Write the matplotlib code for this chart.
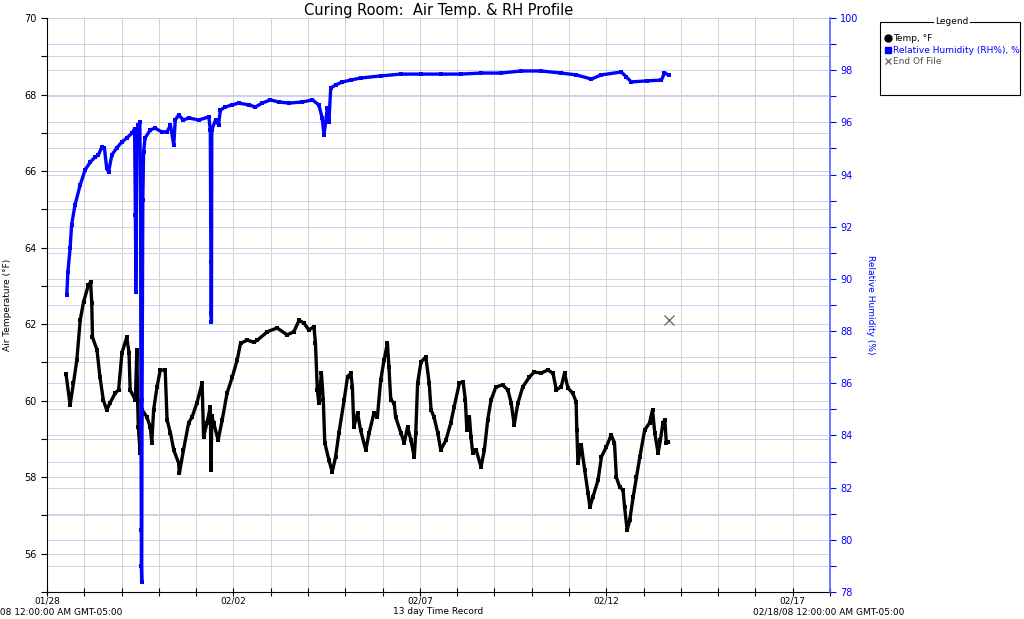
import matplotlib
matplotlib.use("Agg")
import matplotlib.pyplot as plt
from matplotlib.lines import Line2D
from matplotlib.patches import Rectangle
from matplotlib.ticker import MultipleLocator, FixedLocator

# ---- data (days since 01/28/08 00:00) ----
temp_days = [0.51, 0.62, 0.71, 0.80, 0.89, 0.98, 1.11, 1.17, 1.20, 1.22, 1.34, 1.42, 1.51, 1.60, 1.69,
             1.83, 1.92, 2.01, 2.14, 2.20, 2.23, 2.37, 2.41, 2.43, 2.45, 2.50, 2.55, 2.68, 2.77, 2.81,
             2.86, 2.95, 3.04, 3.17, 3.22, 3.31, 3.40, 3.53, 3.55, 3.66, 3.80, 3.89, 4.02, 4.16, 4.20,
             4.29, 4.38, 4.40, 4.42, 4.47, 4.59, 4.70, 4.83, 4.97, 5.10, 5.19, 5.37, 5.55, 5.64, 5.91,
             6.17, 6.44, 6.62, 6.76, 6.89, 7.02, 7.16, 7.20, 7.25, 7.29, 7.36, 7.41, 7.45, 7.56, 7.65,
             7.74, 7.83, 7.97, 8.06, 8.15, 8.19, 8.23, 8.33, 8.41, 8.55, 8.64, 8.77, 8.86, 8.95, 9.04,
             9.13, 9.17, 9.22, 9.31, 9.35, 9.49, 9.58, 9.67, 9.76, 9.85, 9.89, 9.94, 10.03, 10.16, 10.25,
             10.30, 10.38, 10.48, 10.56, 10.70, 10.83, 10.92, 11.06, 11.16, 11.22, 11.26, 11.33, 11.37, 11.42, 11.51,
             11.64, 11.73, 11.82, 11.91, 12.04, 12.22, 12.36, 12.45, 12.53, 12.63, 12.76, 12.94, 13.07, 13.25, 13.43,
             13.57, 13.66, 13.79, 13.88, 13.97, 14.10, 14.19, 14.21, 14.24, 14.33, 14.42, 14.51, 14.56, 14.64, 14.78,
             14.87, 15.00, 15.13, 15.22, 15.27, 15.36, 15.45, 15.49, 15.56, 15.63, 15.72, 15.81, 15.90, 16.03, 16.16,
             16.24, 16.30, 16.39, 16.45, 16.52, 16.57, 16.61, 16.66]
temp_vals = [60.70, 59.89, 60.46, 61.06, 62.10, 62.58, 63.02, 63.10, 62.55, 61.66, 61.33, 60.62, 60.02, 59.76, 59.94,
             60.20, 60.28, 61.25, 61.66, 61.25, 60.28, 60.02, 61.33, 60.00, 59.31, 58.63, 59.76, 59.57, 59.31, 58.90,
             59.76, 60.36, 60.80, 60.80, 59.50, 59.16, 58.71, 58.37, 58.10, 58.71, 59.42, 59.57, 59.94, 60.46, 59.05,
             59.42, 59.84, 58.19, 59.60, 59.42, 58.97, 59.50, 60.20, 60.62, 61.06, 61.50, 61.58, 61.53, 61.58, 61.80,
             61.90, 61.72, 61.80, 62.10, 62.03, 61.85, 61.93, 61.50, 60.28, 59.94, 60.72, 60.02, 58.90, 58.45, 58.14,
             58.53, 59.16, 60.02, 60.62, 60.72, 60.36, 59.31, 59.68, 59.23, 58.71, 59.16, 59.68, 59.57, 60.54, 61.06,
             61.50, 60.88, 60.02, 59.94, 59.57, 59.16, 58.90, 59.31, 58.97, 58.53, 59.16, 60.46, 61.01, 61.14, 60.46,
             59.76, 59.57, 59.16, 58.71, 58.97, 59.42, 59.84, 60.46, 60.49, 60.02, 59.23, 59.57, 59.05, 58.63, 58.71,
             58.27, 58.71, 59.50, 60.02, 60.36, 60.41, 60.28, 59.94, 59.37, 59.94, 60.36, 60.62, 60.75, 60.72, 60.80,
             60.72, 60.28, 60.36, 60.72, 60.33, 60.20, 59.97, 59.23, 58.37, 58.84, 58.19, 57.59, 57.22, 57.48, 57.93,
             58.53, 58.79, 59.10, 58.90, 58.00, 57.74, 57.66, 57.22, 56.62, 56.88, 57.48, 58.00, 58.53, 59.23, 59.42,
             59.76, 59.16, 58.63, 58.97, 59.42, 59.50, 58.90, 58.92]

rh_days = [0.53, 0.56, 0.62, 0.66, 0.75, 0.89, 1.02, 1.16, 1.29, 1.38, 1.47, 1.54, 1.60, 1.65, 1.74,
           1.87, 2.01, 2.14, 2.28, 2.35, 2.37, 2.38, 2.38, 2.40, 2.41, 2.45, 2.49, 2.51, 2.52, 2.53,
           2.53, 2.54, 2.55, 2.57, 2.59, 2.63, 2.77, 2.90, 3.08, 3.22, 3.31, 3.40, 3.44, 3.53, 3.66,
           3.80, 4.07, 4.34, 4.38, 4.39, 4.40, 4.40, 4.41, 4.42, 4.52, 4.60, 4.65, 4.78, 4.97, 5.14,
           5.41, 5.59, 5.77, 5.99, 6.22, 6.49, 6.85, 7.12, 7.29, 7.38, 7.43, 7.52, 7.56, 7.61, 7.74,
           7.92, 8.15, 8.41, 8.95, 9.49, 10.03, 10.56, 11.10, 11.64, 12.18, 12.72, 13.25, 13.79, 14.19, 14.60,
           14.87, 15.40, 15.54, 15.67, 16.08, 16.48, 16.56, 16.67]
rh_vals = [89.38, 90.26, 91.18, 92.07, 92.83, 93.60, 94.17, 94.48, 94.67, 94.75, 95.06, 95.02, 94.25, 94.10, 94.75,
           95.02, 95.25, 95.40, 95.59, 95.75, 92.45, 90.72, 89.50, 93.02, 95.71, 95.90, 96.01, 93.02, 84.59, 80.38,
           79.00, 78.38, 85.36, 93.02, 94.86, 95.40, 95.71, 95.78, 95.63, 95.63, 95.90, 95.13, 96.09, 96.28, 96.09,
           96.17, 96.09, 96.21, 95.71, 92.45, 90.65, 88.69, 88.35, 95.71, 96.09, 95.90, 96.47, 96.59, 96.67, 96.74,
           96.67, 96.59, 96.74, 96.86, 96.78, 96.74, 96.78, 96.86, 96.67, 96.17, 95.52, 96.55, 96.01, 97.32, 97.43,
           97.55, 97.62, 97.70, 97.78, 97.85, 97.85, 97.85, 97.85, 97.89, 97.89, 97.97, 97.97, 97.89, 97.82, 97.66,
           97.82, 97.93, 97.74, 97.55, 97.59, 97.62, 97.89, 97.82]

eof_day = [16.67]
eof_val = [62.1]

day_ticks = [0, 5, 10, 15, 20]
day_labels = ["01/28", "02/02", "02/07", "02/12", "02/17"]

# ---- figure ----
fig = plt.figure(figsize=(10.24, 6.19), dpi=100)
L, R = 47 / 1024, 830 / 1024
B, T = 27 / 619, 601 / 619
ax = fig.add_axes([L, B, R - L, T - B])
grid_rh = ax.twinx()
rh_ax = ax.twinx()

BLUE = "#0000ff"
ax.set_zorder(2)
ax.patch.set_visible(False)
grid_rh.set_zorder(1)
rh_ax.set_zorder(3)
rh_ax.patch.set_visible(False)

# x axis
ax.set_xlim(0, 21)
ax.xaxis.set_major_locator(FixedLocator(day_ticks))
ax.xaxis.set_minor_locator(MultipleLocator(1))
ax.set_xticklabels(day_labels, fontsize=6.5)
ax.tick_params(axis="x", which="both", direction="inout", length=6, width=0.8, pad=0)

# temp axis
ax.set_ylim(55, 70)
ax.yaxis.set_minor_locator(MultipleLocator(1))
ax.set_yticks([56, 58, 60, 62, 64, 66, 68, 70])
ax.tick_params(axis="y", which="both", labelsize=7, length=4, width=0.8)
ax.grid(True, which="both", axis="both", color="#d2d2d2", linewidth=0.7)
ax.set_axisbelow(True)
for s in ["top", "right"]:
    ax.spines[s].set_visible(False)
ax.set_ylabel("Air Temperature (°F)", fontsize=6.5, labelpad=9)

# RH grid axis (blue horizontal grid)
for a in (grid_rh, rh_ax):
    a.set_ylim(78, 100)
grid_rh.yaxis.set_major_locator(MultipleLocator(1))
grid_rh.grid(True, axis="y", color="#cfcff8", linewidth=0.7)
grid_rh.tick_params(right=False, labelright=False)
for s in grid_rh.spines.values():
    s.set_visible(False)

# RH axis (ticks, line)
rh_ax.yaxis.set_major_locator(MultipleLocator(2))
rh_ax.yaxis.set_minor_locator(MultipleLocator(1))
rh_ax.tick_params(axis="y", which="both", colors=BLUE, labelsize=7, length=4, width=0.8)
for s in ["top", "left", "bottom"]:
    rh_ax.spines[s].set_visible(False)
rh_ax.spines["right"].set_color("#6060ff")
rh_ax.spines["right"].set_linewidth(1.2)
rh_ax.set_ylabel("Relative Humidity (%)", fontsize=6.5, color=BLUE, rotation=270, labelpad=12)

# series
ax.plot(temp_days, temp_vals, color="black", linewidth=2.4, marker="s", markersize=3.5,
        markerfacecolor="black", markeredgewidth=0)
rh_ax.plot(rh_days, rh_vals, color=BLUE, linewidth=2.4, marker="s", markersize=3.5,
           markerfacecolor=BLUE, markeredgewidth=0)
ax.plot(eof_day, eof_val, linestyle="none", marker="x", color="#707070", markersize=7, markeredgewidth=1)

# titles / labels
fig.text(438.5 / 1024, 1 - 10 / 619, "Curing Room:  Air Temp. & RH Profile", ha="center", va="center",
         fontsize=10.5)
fig.text(47 / 1024, 1 - 612 / 619, "01/28/08 12:00:00 AM GMT-05:00", ha="center", va="center", fontsize=6.5)
fig.text(829 / 1024, 1 - 612 / 619, "02/18/08 12:00:00 AM GMT-05:00", ha="center", va="center", fontsize=6.5)
fig.text(438.5 / 1024, 1 - 612 / 619, "13 day Time Record", ha="center", va="center", fontsize=6.5)

# legend box
bx0, by0, bx1, by1 = 880, 22, 1020, 95
fig.patches.append(Rectangle((bx0 / 1024, 1 - by1 / 619), (bx1 - bx0) / 1024, (by1 - by0) / 619,
                             transform=fig.transFigure, fill=False, edgecolor="black", linewidth=0.8))
fig.text(952 / 1024, 1 - by0 / 619, "Legend", ha="center", va="center", fontsize=6.5,
         bbox=dict(facecolor="white", edgecolor="none", pad=1))
handles = [Line2D([], [], linestyle="none", marker="o", color="black", markersize=5),
           Line2D([], [], linestyle="none", marker="s", color=BLUE, markersize=5),
           Line2D([], [], linestyle="none", marker="x", color="#707070", markersize=5)]
labels = ["Temp, °F", "Relative Humidity (RH%), %", "End Of File"]
leg = fig.legend(handles, labels, loc="upper left", bbox_to_anchor=(885 / 1024, 1 - 34 / 619),
                 frameon=False, fontsize=6.5, handlelength=0.6, handletextpad=0.3, labelspacing=0.3,
                 borderpad=0, borderaxespad=0)
for txt, col in zip(leg.get_texts(), ["black", BLUE, "#505050"]):
    txt.set_color(col)

fig.savefig("out.png", dpi=100)
